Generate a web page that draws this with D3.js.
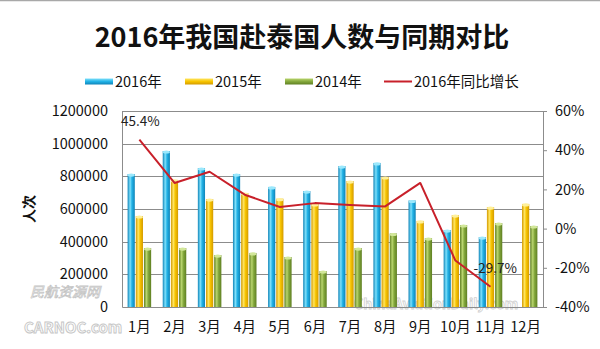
<!DOCTYPE html>
<html>
<head>
<meta charset="utf-8">
<script src="https://cdn.jsdelivr.net/npm/d3@7"></script>
<style>
  html, body { margin: 0; padding: 0; background: #fff; }
  svg { display: block; }
  text { font-family: "Noto Sans CJK SC", "Noto Sans", sans-serif; }
</style>
</head>
<body>
<svg id="chart" width="600" height="349"></svg>
<script>
// Monthly visitor counts (人次) and 2016 year-on-year growth (%)
const months = ["1月","2月","3月","4月","5月","6月","7月","8月","9月","10月","11月","12月"];
const seriesNames = ["2016年","2015年","2014年"];
const visitors2016 = [814000, 955000, 851000, 814000, 735000, 710000, 863000, 882000, 652000, 471000, 428000, null];
const visitors2015 = [557000, 778000, 661000, 698000, 663000, 631000, 771000, 796000, 527000, 563000, 612000, 631000];
const visitors2014 = [361000, 361000, 318000, 331000, 306000, 220000, 361000, 450000, 422000, 502000, 514000, 496000];
const growth2016   = [45.4, 23.3, 29.0, 17.3, 11.0, 13.0, 12.0, 11.3, 23.3, -16.3, -29.7];
const leftTicks  = [0, 200000, 400000, 600000, 800000, 1000000, 1200000];
const rightTicks = [-40, -20, 0, 20, 40, 60];
const lineName = "2016年同比增长";

const svg = d3.select("#chart");
const defs = svg.append("defs");

const plot = { left: 122, right: 543, top: 111, bottom: 307 };

// Scales
const x = d3.scaleBand().domain(months).range([plot.left, plot.right]).paddingInner(0.33).paddingOuter(0.16);
const xs = d3.scaleBand().domain(seriesNames).range([0, x.bandwidth()]).paddingInner(0.12);
const yL = d3.scaleLinear().domain([0, 1200000]).range([plot.bottom, plot.top]);
const yR = d3.scaleLinear().domain([-40, 60]).range([plot.bottom, plot.top]);

// Cylinder-style gradients for the bars
const palette = {
  "2016年": { dark: "#0f84b8", mid: "#22b2e6", light: "#7fe0fb", cap: "#9be8fc" },
  "2015年": { dark: "#d39a00", mid: "#f7c400", light: "#ffe561", cap: "#fff09a" },
  "2014年": { dark: "#5e7f22", mid: "#84a83c", light: "#b9d56e", cap: "#d2e79a" }
};
seriesNames.forEach((s, i) => {
  const c = palette[s];
  const g = defs.append("linearGradient").attr("id", "grad" + i)
    .attr("x1", "0%").attr("x2", "100%").attr("y1", "0%").attr("y2", "0%");
  g.append("stop").attr("offset", "0%").attr("stop-color", c.dark);
  g.append("stop").attr("offset", "35%").attr("stop-color", c.light);
  g.append("stop").attr("offset", "60%").attr("stop-color", c.mid);
  g.append("stop").attr("offset", "100%").attr("stop-color", c.dark);
});

// Frame line at the top
svg.append("line").attr("x1", 0).attr("x2", 600).attr("y1", 0.5).attr("y2", 0.5)
  .attr("stroke", "#a8a8a8").attr("stroke-width", 1.5);

// Site watermarks (drawn underneath the chart)
const wm = svg.append("g").attr("pointer-events", "none");
wm.append("text").attr("x", 30).attr("y", 297).attr("font-size", 14).attr("font-style", "italic")
  .attr("fill", "#fff").attr("fill-opacity", 0.6).attr("stroke", "#c4c4c4").attr("stroke-width", 0.7)
  .text("民航资源网");
wm.append("text").attr("x", 24).attr("y", 333).attr("font-size", 15).attr("font-weight", "bold")
  .attr("font-family", '"Liberation Sans", sans-serif')
  .attr("fill", "#fff").attr("fill-opacity", 0.75).attr("stroke", "#c6c6c6").attr("stroke-width", 0.9)
  .text("CARNOC.com");
wm.append("text").attr("x", 354).attr("y", 309).attr("font-size", 14).attr("font-weight", "bold")
  .attr("font-family", '"Liberation Sans", sans-serif')
  .attr("fill", "#fff").attr("fill-opacity", 0.6).attr("stroke", "#d0d0d0").attr("stroke-width", 0.8)
  .text("ChinaAviationDaily.com");

// Title
svg.append("text").attr("x", 302).attr("y", 47).attr("text-anchor", "middle")
  .attr("font-size", 27).attr("font-weight", "bold").attr("fill", "#111")
  .text("2016年我国赴泰国人数与同期对比");

// Legend
const legendItems = [
  { name: seriesNames[0], x: 85, type: "bar", idx: 0 },
  { name: seriesNames[1], x: 185, type: "bar", idx: 1 },
  { name: seriesNames[2], x: 285, type: "bar", idx: 2 },
  { name: lineName, x: 384, type: "line" }
];
const lg = svg.append("g");
legendItems.forEach(d => {
  if (d.type === "bar") {
    const lgGrad = defs.append("linearGradient").attr("id", "lgrad" + d.idx)
      .attr("x1", "0%").attr("x2", "0%").attr("y1", "0%").attr("y2", "100%");
    const c = palette[d.name];
    lgGrad.append("stop").attr("offset", "0%").attr("stop-color", c.light);
    lgGrad.append("stop").attr("offset", "50%").attr("stop-color", c.mid);
    lgGrad.append("stop").attr("offset", "100%").attr("stop-color", c.dark);
    lg.append("rect").attr("x", d.x).attr("y", 78.5).attr("width", 28).attr("height", 6)
      .attr("fill", `url(#lgrad${d.idx})`);
  } else {
    lg.append("line").attr("x1", d.x).attr("x2", d.x + 28).attr("y1", 81.5).attr("y2", 81.5)
      .attr("stroke", "#c8202a").attr("stroke-width", 2);
  }
  lg.append("text").attr("x", d.x + 30).attr("y", 86.5).attr("font-size", 14.5).attr("fill", "#111")
    .text(d.name);
});

// Gridlines
svg.append("g").selectAll("line").data(leftTicks.filter(t => t > 0)).join("line")
  .attr("x1", plot.left).attr("x2", plot.right)
  .attr("y1", d => Math.round(yL(d)) + 0.5).attr("y2", d => Math.round(yL(d)) + 0.5)
  .attr("stroke", "#8c8c8c").attr("stroke-width", 1);

// Left axis
const leftAxis = svg.append("g").attr("transform", `translate(${plot.left},0)`)
  .call(d3.axisLeft(yL).tickValues(leftTicks).tickFormat(d3.format("d")).tickSize(0).tickPadding(14));
leftAxis.select(".domain").attr("stroke", "#8c8c8c");
leftAxis.selectAll("text").attr("font-size", 14.5).attr("fill", "#111")
  .style("font-family", '"Noto Sans CJK SC", sans-serif');

// Right axis
const rightAxis = svg.append("g").attr("transform", `translate(${plot.right},0)`)
  .call(d3.axisRight(yR).tickValues(rightTicks).tickFormat(d => d + "%").tickSizeInner(4).tickSizeOuter(0).tickPadding(8));
rightAxis.select(".domain").attr("stroke", "#8c8c8c");
rightAxis.selectAll(".tick line").attr("stroke", "#8c8c8c");
rightAxis.selectAll("text").attr("font-size", 14.5).attr("fill", "#111")
  .style("font-family", '"Noto Sans CJK SC", sans-serif');

// Bottom axis
const bottomAxis = svg.append("g").attr("transform", `translate(0,${plot.bottom})`)
  .call(d3.axisBottom(x).tickSize(0).tickPadding(15));
bottomAxis.select(".domain").attr("stroke", "#8c8c8c");
bottomAxis.selectAll("text").attr("font-size", 14.5).attr("fill", "#111")
  .style("font-family", '"Noto Sans CJK SC", sans-serif');

// Y axis title
svg.append("text").attr("transform", "translate(34,209) rotate(-90)").attr("text-anchor", "middle")
  .attr("font-size", 14).attr("font-weight", "bold").attr("fill", "#111").text("人次");

// Bars
const seriesData = [visitors2016, visitors2015, visitors2014];
const barRows = [];
seriesData.forEach((vals, si) => vals.forEach((v, mi) => {
  if (v != null) barRows.push({ s: seriesNames[si], si, m: months[mi], v });
}));
const bars = svg.append("g");
bars.selectAll("rect.bar").data(barRows).join("rect").attr("class", "bar")
  .attr("x", d => x(d.m) + xs(d.s))
  .attr("y", d => yL(d.v))
  .attr("width", xs.bandwidth())
  .attr("height", d => yL(0) - yL(d.v))
  .attr("fill", d => `url(#grad${d.si})`);
bars.selectAll("ellipse.cap").data(barRows).join("ellipse").attr("class", "cap")
  .attr("cx", d => x(d.m) + xs(d.s) + xs.bandwidth() / 2)
  .attr("cy", d => yL(d.v) + 1)
  .attr("rx", xs.bandwidth() / 2)
  .attr("ry", 1.6)
  .attr("fill", d => palette[d.s].cap);

// Growth line
const linePts = growth2016.map((g, i) => ({ m: months[i], g }));
svg.append("path").datum(linePts)
  .attr("fill", "none").attr("stroke", "#c8202a").attr("stroke-width", 2).attr("stroke-linejoin", "round")
  .attr("d", d3.line().x(d => x(d.m) + x.bandwidth() / 2).y(d => yR(d.g)));

// Endpoint value labels
const first = linePts[0], last = linePts[linePts.length - 1];
svg.append("text").attr("x", plot.left - 1).attr("y", yR(first.g) - 14)
  .attr("font-size", 13.5).attr("fill", "#222").text(first.g.toFixed(1) + "%");
svg.append("text").attr("x", x(last.m) + x.bandwidth() / 2 - 17).attr("y", yR(last.g) - 14)
  .attr("font-size", 13.5).attr("fill", "#222").text(last.g.toFixed(1) + "%");
</script>
</body>
</html>
